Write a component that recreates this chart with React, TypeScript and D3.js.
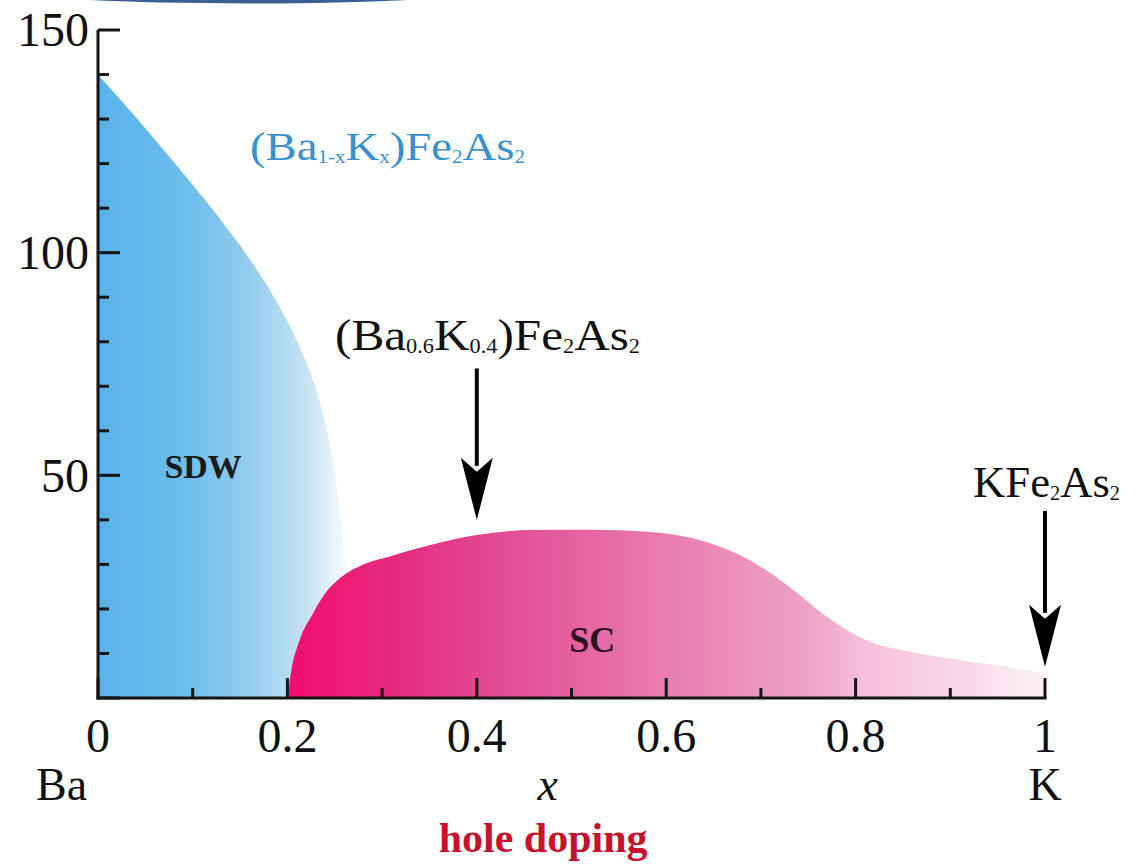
import React from "react";
import * as d3 from "d3";

// ---- data (x = K fraction, T in K) ----
const sdwBoundary: [number, number][] = [
  [0, 140], [0.03, 132.8], [0.06, 125.4], [0.09, 117.8], [0.12, 110], [0.15, 101.6],
  [0.175, 93.8], [0.195, 86.6], [0.21, 80.3], [0.222, 74.3], [0.233, 67.3],
  [0.242, 59.8], [0.249, 51.8], [0.255, 42.5], [0.26, 32], [0.264, 20], [0.267, 0],
];
const scBoundary: [number, number][] = [
  [0.2, 0], [0.204, 6], [0.213, 13], [0.227, 19], [0.24, 23.5], [0.256, 27],
  [0.28, 30], [0.308, 31.8], [0.35, 34.3], [0.4, 36.6], [0.456, 37.7],
  [0.52, 37.8], [0.583, 37.3], [0.643, 35], [0.688, 31], [0.73, 25],
  [0.77, 18.2], [0.818, 12.4], [0.86, 10.3], [0.889, 9.2], [0.96, 7], [1.0, 5.5],
];
const xMajorTicks = [0, 0.2, 0.4, 0.6, 0.8, 1];
const xMajorLabels = ["0", "0.2", "0.4", "0.6", "0.8", "1"];
const xMinorTicks = [0.1, 0.3, 0.5, 0.7, 0.9];
const yMajorTicks = [0, 50, 100, 150];
const yTickLabels = [50, 100, 150];
const yMinorTicks = [10, 20, 30, 40, 60, 70, 80, 90, 110, 120, 130, 140];
const arrows = [
  { x: 0.4, from: 74, to: 40 },
  { x: 1, from: 42, to: 7 },
];

export default function App() {
  const W = 1138, H = 865;
  const x = d3.scaleLinear().domain([0, 1]).range([98, 1045]);
  const y = d3.scaleLinear().domain([0, 150]).range([698, 30]);

  const line = d3.line<[number, number]>().x(d => x(d[0])).y(d => y(d[1])).curve(d3.curveMonotoneX);
  const sdwPath = line(sdwBoundary) + ` L${x(0)},${y(0)} Z`;
  const scPath = line(scBoundary) + ` L${x(1)},${y(0)} L${x(0.2)},${y(0)} Z`;

  const serif = "'Liberation Serif', 'Times New Roman', serif";
  const axisColor = "#151515";

  return (
    <svg width={W} height={H} style={{ position: "absolute", left: 0, top: 0, background: "#fff" }} fontFamily={serif}>
      <defs>
        <linearGradient id="sdwGrad" gradientUnits="userSpaceOnUse" x1={x(0)} y1={0} x2={x(0.27)} y2={0}>
          <stop offset="0" stopColor="rgb(88,178,234)" />
          <stop offset="0.35" stopColor="rgb(110,190,236)" />
          <stop offset="0.6" stopColor="rgb(150,205,238)" />
          <stop offset="0.82" stopColor="rgb(200,228,244)" />
          <stop offset="1" stopColor="rgb(255,255,255)" />
        </linearGradient>
        <linearGradient id="scGrad" gradientUnits="userSpaceOnUse" x1={x(0.2)} y1={0} x2={x(1)} y2={0}>
          <stop offset="0" stopColor="rgb(245,12,110)" />
          <stop offset="0.15" stopColor="rgb(228,45,128)" />
          <stop offset="0.3" stopColor="rgb(226,80,150)" />
          <stop offset="0.5" stopColor="rgb(232,125,175)" />
          <stop offset="0.7" stopColor="rgb(238,165,198)" />
          <stop offset="0.76" stopColor="rgb(246,192,218)" />
          <stop offset="0.9" stopColor="rgb(249,218,233)" />
          <stop offset="1" stopColor="rgb(253,242,247)" />
        </linearGradient>
      </defs>

      {/* decorative swoosh at top */}
      <path d="M90,0 L408,0 Q340,3.5 250,3.5 Q150,3 90,0 Z" fill="#3a5f95" />

      {/* regions */}
      <path d={sdwPath} fill="url(#sdwGrad)" />
      <path d={scPath} fill="url(#scGrad)" />

      {/* axes */}
      <line x1={x(0)} x2={x(0)} y1={y(150)} y2={y(0) + 1.5} stroke={axisColor} strokeWidth={3} />
      <line x1={x(0) - 1.5} x2={x(1) + 1.5} y1={y(0)} y2={y(0)} stroke={axisColor} strokeWidth={3} />
      {yMajorTicks.map(t => (
        <line key={"ym" + t} x1={x(0)} x2={x(0) + 22} y1={y(t)} y2={y(t)} stroke={axisColor} strokeWidth={3} />
      ))}
      {yMinorTicks.map(t => (
        <line key={"yn" + t} x1={x(0)} x2={x(0) + 11} y1={y(t)} y2={y(t)} stroke={axisColor} strokeWidth={3} />
      ))}
      {xMajorTicks.map(t => (
        <line key={"xm" + t} x1={x(t)} x2={x(t)} y1={y(0)} y2={y(0) - 20} stroke={axisColor} strokeWidth={3} />
      ))}
      {xMinorTicks.map(t => (
        <line key={"xn" + t} x1={x(t)} x2={x(t)} y1={y(0)} y2={y(0) - 10} stroke={axisColor} strokeWidth={3} />
      ))}

      {/* tick labels */}
      {yTickLabels.map(t => (
        <text key={"yl" + t} x={x(0) - 9} y={y(t)} dy="0.34em" textAnchor="end" fontSize={48} fill="#111">{t}</text>
      ))}
      {xMajorTicks.map((t, i) => (
        <text key={"xl" + t} x={x(t)} y={752} textAnchor="middle" fontSize={48} fill="#111">{xMajorLabels[i]}</text>
      ))}
      <text x={x(0) - 62} y={800} fontSize={46} fill="#111">Ba</text>
      <text x={x(1)} y={800} textAnchor="middle" fontSize={46} fill="#111">K</text>
      <text x={x(0.475)} y={800} textAnchor="middle" fontSize={46} fontStyle="italic" fill="#111">x</text>
      <text x={x(0.47)} y={852} textAnchor="middle" fontSize={42} fontWeight="bold" fill="rgb(200,18,45)">hole doping</text>

      {/* region labels */}
      <text x={x(0.111)} y={y(52) + 12} textAnchor="middle" fontSize={34} fontWeight="bold" fill="#1a1a1a">SDW</text>
      <text x={x(0.522)} y={y(13) + 12} textAnchor="middle" fontSize={36} fontWeight="bold" fill="#2a1020">SC</text>

      {/* compound labels */}
      <text x={250} y={160} fontSize={40} fill="#3a90d0" textLength={275} lengthAdjust="spacingAndGlyphs">
        (Ba<tspan fontSize={18} dy={3}>1-x</tspan><tspan dy={-3}>K</tspan><tspan fontSize={18} dy={3}>x</tspan><tspan dy={-3}>)Fe</tspan><tspan fontSize={18} dy={3}>2</tspan><tspan dy={-3}>As</tspan><tspan fontSize={18} dy={3}>2</tspan>
      </text>
      <text x={335} y={350} fontSize={44} fill="#111" textLength={305} lengthAdjust="spacingAndGlyphs">
        (Ba<tspan fontSize={20} dy={3}>0.6</tspan><tspan dy={-3}>K</tspan><tspan fontSize={20} dy={3}>0.4</tspan><tspan dy={-3}>)Fe</tspan><tspan fontSize={20} dy={3}>2</tspan><tspan dy={-3}>As</tspan><tspan fontSize={20} dy={3}>2</tspan>
      </text>
      <text x={973} y={497} fontSize={44} fill="#111" textLength={147} lengthAdjust="spacingAndGlyphs">
        KFe<tspan fontSize={20} dy={3}>2</tspan><tspan dy={-3}>As</tspan><tspan fontSize={20} dy={3}>2</tspan>
      </text>

      {/* arrows */}
      {arrows.map((a, i) => {
        const ax = x(a.x), y0 = y(a.from), y1 = y(a.to);
        const headLen = 62, headW = 16;
        return (
          <g key={"ar" + i}>
            <line x1={ax} x2={ax} y1={y0} y2={y1 - headLen + 8} stroke="#000" strokeWidth={4} />
            <path d={`M${ax - headW},${y1 - headLen} L${ax},${y1 - headLen + 14} L${ax + headW},${y1 - headLen} L${ax},${y1} Z`} fill="#000" />
          </g>
        );
      })}
    </svg>
  );
}
